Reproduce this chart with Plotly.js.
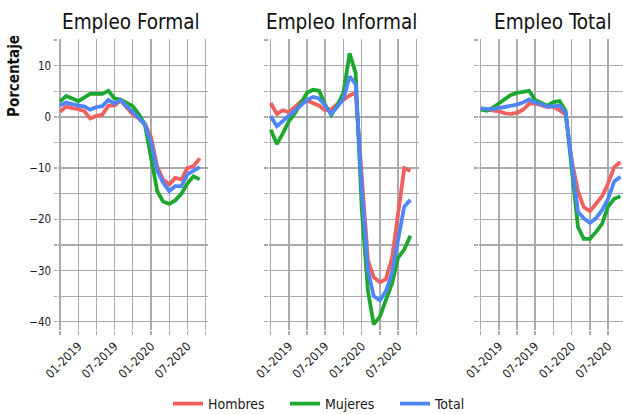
<!DOCTYPE html>
<html>
<head>
<meta charset="utf-8">
<script src="https://cdn.plot.ly/plotly-3.0.1.min.js"></script>
<style>html,body{margin:0;padding:0;background:#fff;}#chart{width:623px;height:414px;}</style>
</head>
<body>
<div id="chart"></div>
<script>
const months = ["2018-10-01","2018-11-01","2018-12-01","2019-01-01","2019-02-01","2019-03-01","2019-04-01","2019-05-01","2019-06-01","2019-07-01","2019-08-01","2019-09-01","2019-10-01","2019-11-01","2019-12-01","2020-01-01","2020-02-01","2020-03-01","2020-04-01","2020-05-01","2020-06-01","2020-07-01","2020-08-01","2020-09-01"];

const panels = ["Empleo Formal", "Empleo Informal", "Empleo Total"];
const seriesNames = ["Hombres", "Mujeres", "Total"];
const seriesColors = ["#F0605E", "#1CA82F", "#4F86F6"];

const formalHombres = [1.0, 2.0, 1.7, 1.5, 1.1, -0.3, 0.2, 0.4, 2.2, 2.2, 3.2, 1.7, 0.5, -0.3, -1.3, -4.0, -9.8, -12.2, -13.2, -11.9, -12.2, -10.0, -9.6, -8.1];
const formalMujeres = [3.0, 4.1, 3.6, 3.1, 3.8, 4.5, 4.5, 4.5, 5.1, 3.6, 3.4, 2.8, 2.1, 0.5, -1.5, -8.0, -14.5, -16.5, -17.0, -16.3, -15.0, -13.0, -11.6, -12.2];
const formalTotal   = [2.2, 2.8, 2.5, 2.2, 2.0, 1.4, 1.9, 2.1, 3.3, 2.6, 3.3, 2.0, 1.0, -0.3, -1.5, -5.0, -10.5, -12.8, -14.5, -13.5, -13.5, -11.2, -10.6, -9.8];

const informalHombres = [2.7, 0.6, 1.3, 0.9, 2.0, 3.0, 3.2, 2.8, 2.2, 1.3, 1.5, 2.5, 3.3, 4.2, 4.7, -11.0, -28.0, -31.3, -32.3, -31.7, -27.5, -19.0, -10.0, -10.5];
const informalMujeres = [-2.5, -5.3, -3.2, -0.8, 0.8, 2.5, 4.7, 5.3, 5.1, 2.4, 0.4, 2.3, 4.7, 12.4, 8.6, -18.0, -34.0, -40.5, -39.0, -35.7, -32.5, -27.5, -25.9, -23.2];
const informalTotal   = [0.1, -1.8, -0.8, 0.2, 1.2, 2.2, 3.3, 3.9, 3.6, 2.2, 0.6, 2.0, 3.5, 7.9, 6.4, -14.0, -30.0, -35.0, -35.8, -34.0, -30.5, -24.0, -17.5, -16.2];

const totalHombres = [1.6, 1.4, 1.3, 1.1, 0.7, 0.6, 0.8, 1.4, 2.6, 2.6, 2.3, 1.9, 2.0, 1.3, 0.4, -8.6, -14.5, -17.6, -18.4, -17.0, -15.5, -13.0, -9.8, -8.8];
const totalMujeres = [1.4, 1.2, 1.8, 2.7, 3.6, 4.3, 4.7, 4.9, 5.1, 3.3, 2.8, 2.2, 2.9, 3.1, 1.2, -11.0, -21.5, -23.8, -23.8, -22.5, -20.9, -17.5, -16.0, -15.5];
const totalTotal   = [1.7, 1.5, 1.5, 1.7, 1.9, 2.1, 2.4, 2.8, 3.4, 2.8, 2.5, 2.0, 2.1, 2.2, 0.8, -9.5, -18.5, -19.8, -20.7, -19.8, -18.2, -16.0, -12.6, -11.7];

const panelData = [
  [formalHombres, formalMujeres, formalTotal],
  [informalHombres, informalMujeres, informalTotal],
  [totalHombres, totalMujeres, totalTotal]
];

const W = 623, H = 414;
const FONT = "'DejaVu Sans Condensed', 'DejaVu Sans', sans-serif";
const GRID = "#ababab";

const panelLeft = [58, 268.7, 478.7];
const panelWidth = 150;
const panelRangeEnd = ["2020-10-12 14:00", "2020-10-12 14:00", "2020-09-14"];
const titleCenter = [131, 341.5, 552.5];
const legendNames = ["legend", "legend2", "legend3"];
const legendLeft = [168, 285, 395];

const traces = [];
panelData.forEach((series, p) => {
  series.forEach((vals, s) => {
    traces.push({
      type: "scatter", mode: "lines",
      x: months, y: vals,
      name: seriesNames[s],
      legend: legendNames[s],
      showlegend: p === 0,
      line: {color: seriesColors[s], width: 3.8},
      xaxis: p === 0 ? "x" : "x" + (p + 1),
      yaxis: p === 0 ? "y" : "y" + (p + 1),
      hoverinfo: "skip"
    });
  });
});

const layout = {
  width: W, height: H,
  margin: {l: 0, r: 0, t: 0, b: 0, autoexpand: false},
  paper_bgcolor: "#ffffff", plot_bgcolor: "#ffffff",
  font: {family: FONT, color: "#1a1a1a", size: 12},
  showlegend: true,
  annotations: []
};

legendNames.forEach((ln, i) => {
  layout[ln] = {
    orientation: "h", x: legendLeft[i] / W, xanchor: "left",
    y: (H - 404) / H, yanchor: "middle",
    font: {family: FONT, size: 14, color: "#1a1a1a"},
    bgcolor: "rgba(0,0,0,0)"
  };
});

for (let p = 0; p < 3; p++) {
  const xk = p === 0 ? "xaxis" : "xaxis" + (p + 1);
  const yk = p === 0 ? "yaxis" : "yaxis" + (p + 1);
  const x0 = panelLeft[p] / W;
  const x1 = Math.min(1, (panelLeft[p] + panelWidth) / W);
  layout[xk] = {
    domain: [x0, x1],
    type: "date",
    range: ["2018-09-21", panelRangeEnd[p]],
    anchor: p === 0 ? "y" : "y" + (p + 1),
    tickmode: "linear", tick0: "2019-01-01", dtick: "M6",
    tickformat: "%m-%Y", tickangle: -45,
    tickfont: {family: FONT, size: 12, color: "#1a1a1a"},
    showgrid: true, gridcolor: GRID, gridwidth: 1.3,
    ticks: "outside", ticklen: 3.5, tickwidth: 1.3, tickcolor: GRID,
    minor: {dtick: "M3", tick0: "2018-10-01", showgrid: true, gridcolor: GRID, gridwidth: 1.3,
            ticks: "outside", ticklen: 3.5, tickwidth: 1.3, tickcolor: GRID},
    showline: false, zeroline: false, fixedrange: true, automargin: false
  };
  layout[yk] = {
    domain: [(H - 330) / H, (H - 39.3) / H],
    range: [-41.6, 15.15],
    anchor: p === 0 ? "x" : "x" + (p + 1),
    tickmode: "linear", tick0: 0, dtick: 10,
    showticklabels: p === 0,
    tickfont: {family: FONT, size: 11.5, color: "#1a1a1a"},
    showgrid: true, gridcolor: GRID, gridwidth: 1.3,
    ticks: "outside", ticklen: 3.5, tickwidth: 1.3, tickcolor: GRID,
    minor: {dtick: 5, tick0: 0, showgrid: true, gridcolor: GRID, gridwidth: 1.3,
            ticks: "outside", ticklen: 3.5, tickwidth: 1.3, tickcolor: GRID},
    showline: false, zeroline: false, fixedrange: true, automargin: false
  };
  layout.annotations.push({
    text: panels[p], xref: "paper", yref: "paper",
    x: titleCenter[p] / W, y: (H - 21.5) / H, xanchor: "center", yanchor: "middle",
    showarrow: false, font: {family: FONT, size: 20.5, color: "#111"}
  });
}

layout.annotations.push({
  text: "<b>Porcentaje</b>", xref: "paper", yref: "paper",
  x: 14 / W, y: (H - 76) / H, xanchor: "center", yanchor: "middle",
  textangle: -90, showarrow: false, font: {family: FONT, size: 15, color: "#111"}
});

Plotly.newPlot("chart", traces, layout, {displayModeBar: false, staticPlot: true});
</script>
</body>
</html>
